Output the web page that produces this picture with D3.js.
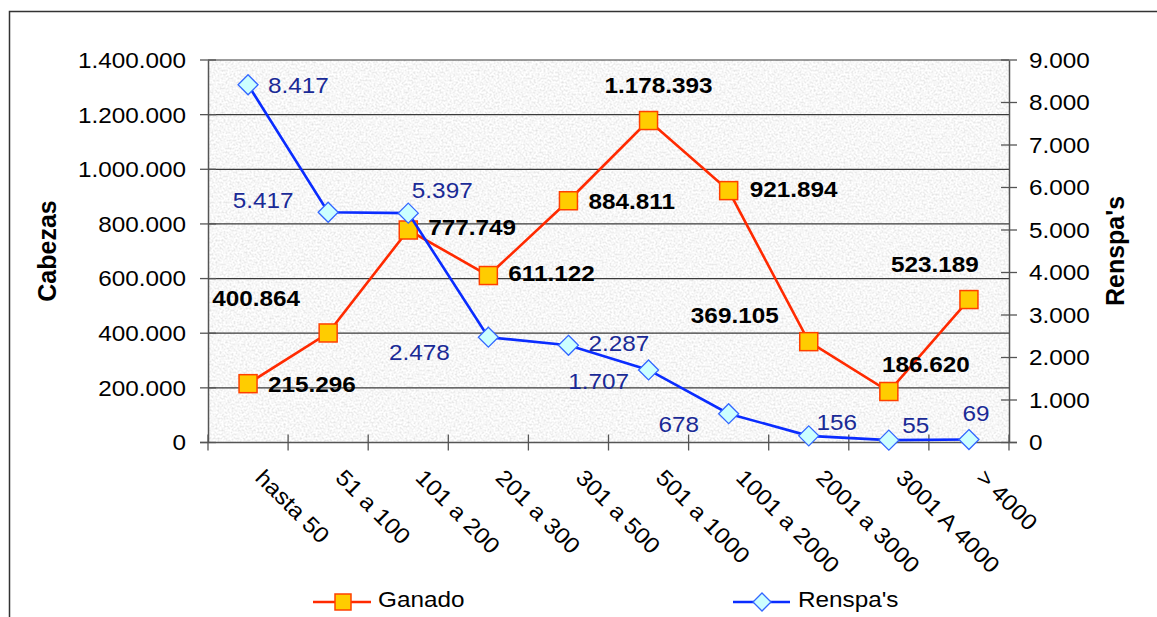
<!DOCTYPE html>
<html><head><meta charset="utf-8">
<script src="https://cdn.jsdelivr.net/npm/d3@7"></script>
<style>body{margin:0;background:#fff}svg{display:block}text{font-family:"Liberation Sans",Arial,sans-serif}</style>
</head><body>
<svg id="c" width="1157" height="617"></svg>
<script>
const categories = ["hasta 50","51 a 100","101 a 200","201 a 300","301 a 500","501 a 1000","1001 a 2000","2001 a 3000","3001 A 4000","> 4000"];
const ganado = [215296,400864,777749,611122,884811,1178393,921894,369105,186620,523189];
const renspas = [8417,5417,5397,2478,2287,1707,678,156,55,69];
const leftTicks = [0,200000,400000,600000,800000,1000000,1200000,1400000];
const rightTicks = [0,1000,2000,3000,4000,5000,6000,7000,8000,9000];
const seriesNames = ["Ganado","Renspa's"];
const axisTitles = ["Cabezas","Renspa's"];

// label placement offsets (style only)
const gOff = [[20,0,"start"],[-72,-35,"middle"],[20,-3,"start"],[20,-2,"start"],[20,0,"start"],[10,-35,"middle"],[21,-2,"start"],[-74,-27,"middle"],[37,-27,"middle"],[-34,-35,"middle"]];
const rOff = [[20,0,"start"],[-65,-12,"middle"],[34,-23,"middle"],[-69,15,"middle"],[20,-2,"start"],[-50,11,"middle"],[-50,10,"middle"],[28,-14,"middle"],[27,-15,"middle"],[7,-26,"middle"]];

const svg = d3.select("#c");
const W=1157,H=617;
const m={l:208,r:1009,t:60,b:442.5};
const SX=1.08, FS=22.5;
const loc = d3.formatLocale({decimal:",",thousands:".",grouping:[3],currency:["",""]});
const fmt = loc.format(",d");

// outer border
svg.append("path").attr("d",`M9.5,${H} L9.5,11.5 L${W},11.5`).attr("fill","none").attr("stroke","#333").attr("stroke-width",1.5);

// texture
const defs=svg.append("defs");
const f=defs.append("filter").attr("id","tex").attr("x",0).attr("y",0).attr("width","100%").attr("height","100%");
f.append("feTurbulence").attr("type","fractalNoise").attr("baseFrequency","0.5").attr("numOctaves",3).attr("seed",7);
f.append("feColorMatrix").attr("type","matrix").attr("values","0.5 0 0 0 0.68  0.5 0 0 0 0.68  0.5 0 0 0 0.68  0 0 0 0 1");

const x=d3.scalePoint().domain(categories).range([m.l,m.r]).padding(0.5);
const band=(m.r-m.l)/categories.length;
const yL=d3.scaleLinear().domain([0,1400000]).range([m.b,m.t]);
const yR=d3.scaleLinear().domain([0,9000]).range([m.b,m.t]);

svg.append("rect").attr("x",m.l).attr("y",m.t).attr("width",m.r-m.l).attr("height",m.b-m.t).attr("filter","url(#tex)");

// gridlines
svg.append("g").selectAll("line").data(leftTicks.slice(1)).join("line")
 .attr("x1",m.l).attr("x2",m.r).attr("y1",d=>yL(d)).attr("y2",d=>yL(d))
 .attr("stroke","#3a3a3a").attr("stroke-width",1.2);

function stext(g,xx,yy,txt,opts={}){
  return g.append("text").attr("transform",`translate(${xx},${yy}) scale(${SX},1)`)
   .attr("text-anchor",opts.anchor||"start").attr("dy",opts.dy||"0.35em")
   .attr("font-size",opts.size||FS).attr("font-weight",opts.weight||"normal")
   .attr("fill",opts.fill||"#000").text(txt);
}

// axes
const axC="#555";
const gL=svg.append("g").attr("transform",`translate(${m.l},0)`).call(d3.axisLeft(yL).tickValues(leftTicks).tickSize(0).tickFormat(""));
gL.select(".domain").attr("stroke",axC).attr("stroke-width",1.5);
leftTicks.forEach(t=>{
  svg.append("line").attr("x1",m.l-8).attr("x2",m.l+8).attr("y1",yL(t)).attr("y2",yL(t)).attr("stroke",axC).attr("stroke-width",1.3);
  stext(svg,m.l-22,yL(t),fmt(t),{anchor:"end"});
});
const gR=svg.append("g").attr("transform",`translate(${m.r},0)`).call(d3.axisRight(yR).tickValues(rightTicks).tickSize(0).tickFormat(""));
gR.select(".domain").attr("stroke",axC).attr("stroke-width",1.5);
rightTicks.forEach(t=>{
  svg.append("line").attr("x1",m.r-8).attr("x2",m.r+8).attr("y1",yR(t)).attr("y2",yR(t)).attr("stroke",axC).attr("stroke-width",1.3);
  stext(svg,m.r+20,yR(t),fmt(t),{anchor:"start"});
});
const gB=svg.append("g").attr("transform",`translate(0,${m.b})`).call(d3.axisBottom(x).tickSize(0).tickFormat(""));
gB.select(".domain").attr("stroke",axC).attr("stroke-width",1.5).attr("d",`M${m.l-8},0H${m.r+8}`);
d3.range(categories.length+1).forEach(i=>{
  const xx=m.l+i*band;
  svg.append("line").attr("x1",xx).attr("x2",xx).attr("y1",m.b-8).attr("y2",m.b+8).attr("stroke",axC).attr("stroke-width",1.3);
});
categories.forEach(c=>{
  svg.append("text").attr("transform",`translate(${x(c)+6},${479}) rotate(45) scale(${SX},1)`)
   .attr("font-size",FS).attr("fill","#000").text(c);
});

// axis titles
svg.append("text").attr("transform",`translate(47,251) rotate(-90)`).attr("text-anchor","middle").attr("dy","0.35em")
 .attr("font-size",25).attr("font-weight","bold").text(axisTitles[0]);
svg.append("text").attr("transform",`translate(1115,251) rotate(-90)`).attr("text-anchor","middle").attr("dy","0.35em")
 .attr("font-size",25).attr("font-weight","bold").text(axisTitles[1]);

// series
const gCol="#ff2a00", rCol="#0a2cff";
const lineG=d3.line().x((d,i)=>x(categories[i])).y(d=>yL(d));
const lineR=d3.line().x((d,i)=>x(categories[i])).y(d=>yR(d));
svg.append("path").datum(ganado).attr("d",lineG).attr("fill","none").attr("stroke",gCol).attr("stroke-width",2.6);
svg.append("g").selectAll("rect").data(ganado).join("rect")
 .attr("x",(d,i)=>x(categories[i])-9).attr("y",d=>yL(d)-9).attr("width",18).attr("height",18)
 .attr("fill","#ffcc00").attr("stroke","#ff4000").attr("stroke-width",1.5);
svg.append("path").datum(renspas).attr("d",lineR).attr("fill","none").attr("stroke",rCol).attr("stroke-width",2.6);
const dia=(cx,cy,r)=>`M${cx},${cy-r}L${cx+r},${cy}L${cx},${cy+r}L${cx-r},${cy}Z`;
svg.append("g").selectAll("path").data(renspas).join("path")
 .attr("d",(d,i)=>dia(x(categories[i]),yR(d),10))
 .attr("fill","#ccffff").attr("stroke","#3366ff").attr("stroke-width",1.3);

// data labels
ganado.forEach((v,i)=>{
  const o=gOff[i];
  stext(svg,x(categories[i])+o[0],yL(v)+o[1],fmt(v),{anchor:o[2],weight:"bold"});
});
renspas.forEach((v,i)=>{
  const o=rOff[i];
  stext(svg,x(categories[i])+o[0],yR(v)+o[1],fmt(v),{anchor:o[2],fill:"#1a2a96"});
});

// legend
const ly=602;
svg.append("line").attr("x1",313).attr("x2",371).attr("y1",ly).attr("y2",ly).attr("stroke",gCol).attr("stroke-width",2.6);
svg.append("rect").attr("x",343-8).attr("y",ly-8).attr("width",16).attr("height",16).attr("fill","#ffcc00").attr("stroke","#ff4000").attr("stroke-width",1.5);
stext(svg,378,ly-3,seriesNames[0]);
svg.append("line").attr("x1",733).attr("x2",790).attr("y1",ly).attr("y2",ly).attr("stroke",rCol).attr("stroke-width",2.6);
svg.append("path").attr("d",dia(762,ly,9)).attr("fill","#ccffff").attr("stroke","#3366ff").attr("stroke-width",1.3);
stext(svg,798,ly-3,seriesNames[1]);
</script>
</body></html>
